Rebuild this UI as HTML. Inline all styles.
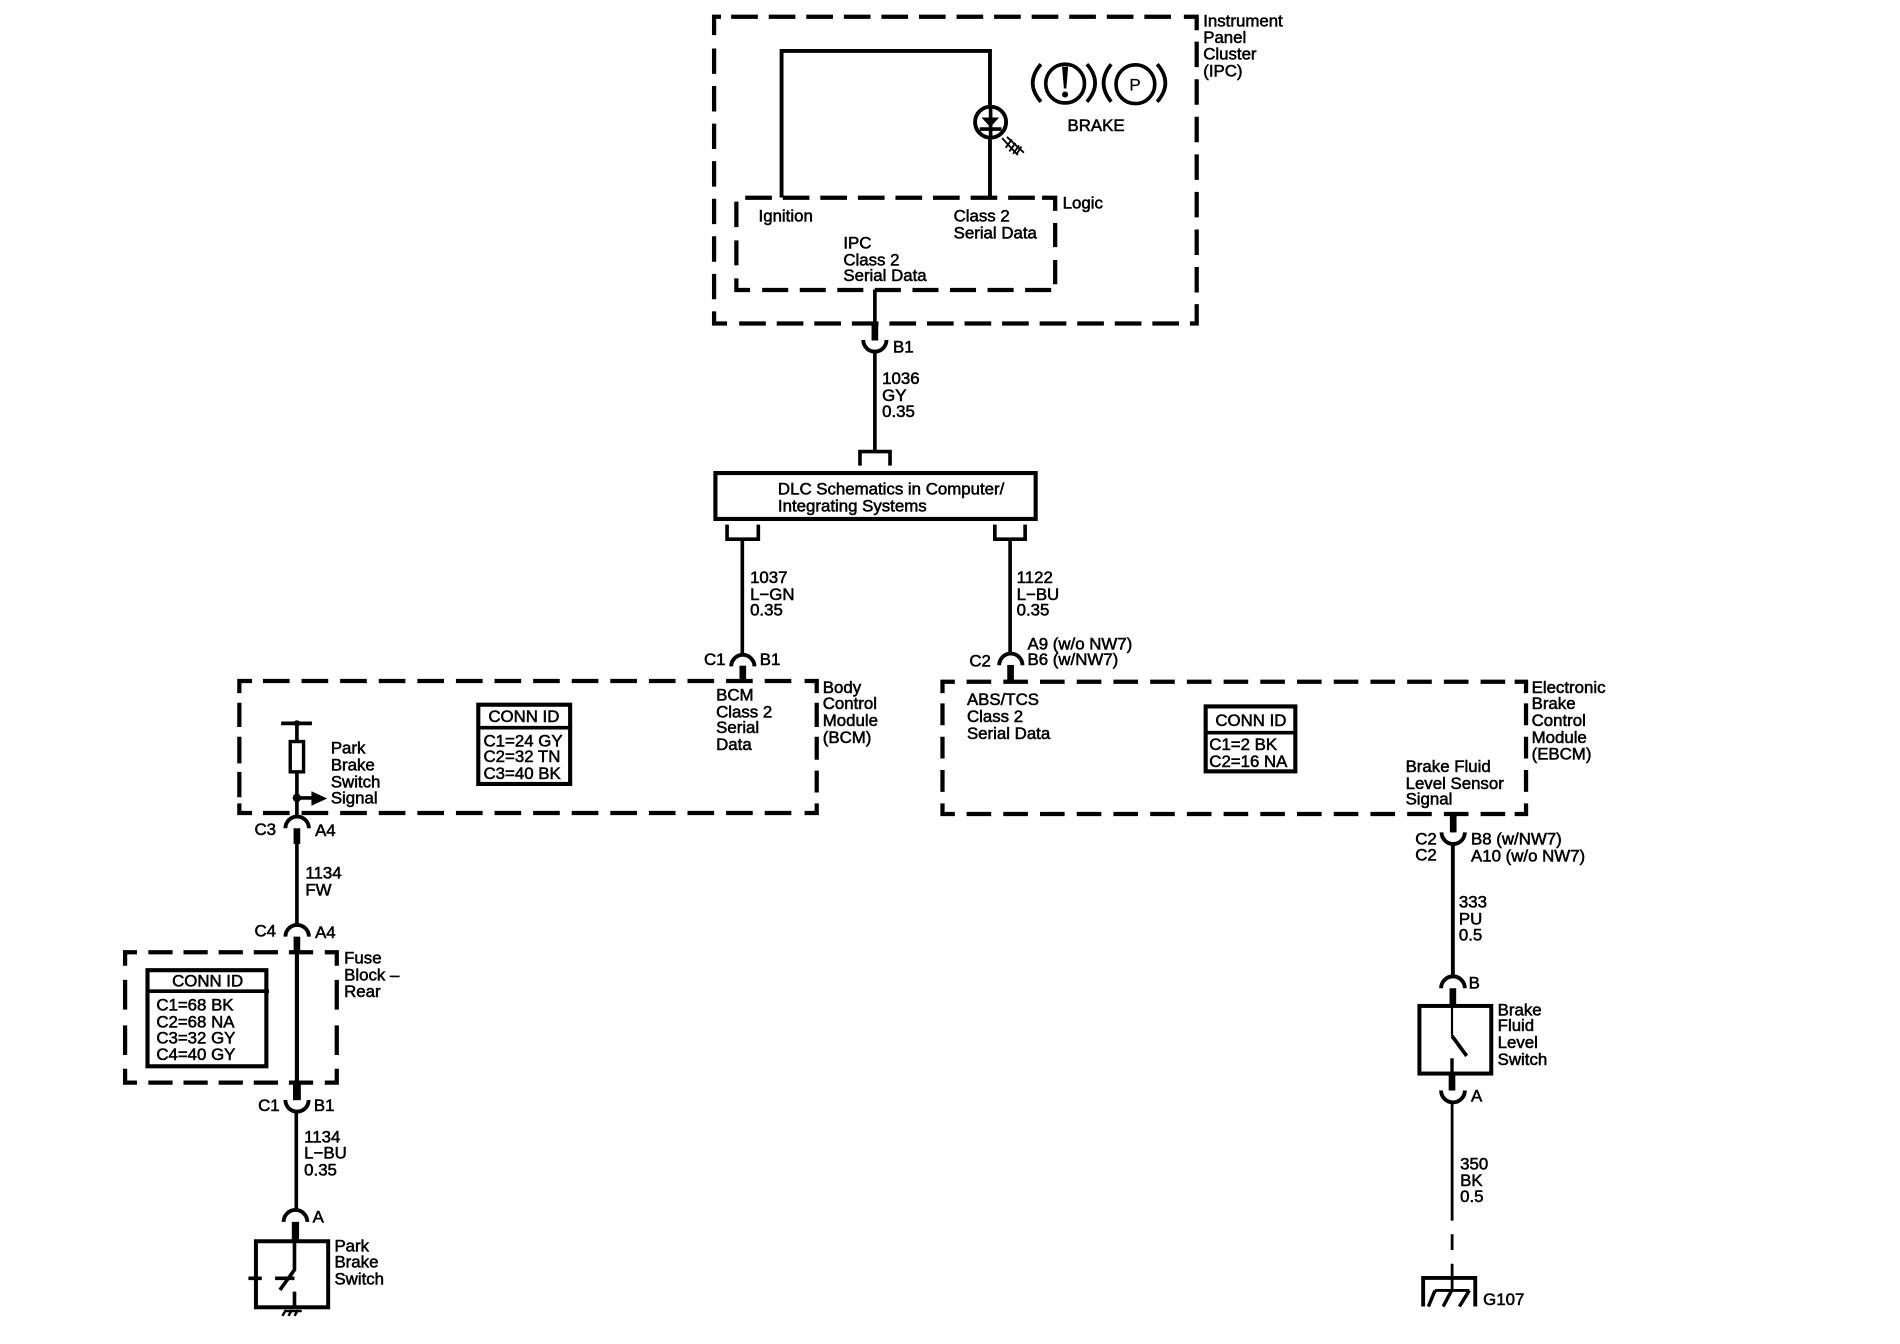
<!DOCTYPE html>
<html><head><meta charset="utf-8"><style>
html,body{margin:0;padding:0;background:#fff;width:1900px;height:1344px;overflow:hidden}
svg{display:block}
text{font-family:"Liberation Sans",sans-serif;font-size:13.9px;fill:#000;stroke:#000;stroke-width:.45}
.w{fill:none;stroke:#000;stroke-width:3}
.n{fill:none;stroke:#000;stroke-width:2.3}
.t{fill:none;stroke:#000;stroke-width:5.5}
.d{fill:none;stroke:#000;stroke-width:3.5}
.a{fill:none;stroke:#000;stroke-width:3.2}
</style></head><body>
<svg width="1900" height="1344" viewBox="0 0 1568 1109.2" xmlns="http://www.w3.org/2000/svg">
<rect width="1568" height="1110" fill="#fff"/>
<!-- IPC dashed -->
<path class="d" d="M589.300 29V13.800H595M977 13.800H987.600V25M589.300 257V267H600M982 267H987.600V251"/>
<path class="d" style="stroke-dasharray:22 9" d="M603.400 13.800H968M610 267H973"/>
<path class="d" style="stroke-dasharray:21 10" d="M589.300 40V247M987.600 34.400V242"/>
<!-- Logic dashed -->
<path class="d" d="M860 163.200H870.800V174M607.700 229.700V239.300H619"/>
<path class="d" style="stroke-dasharray:22 9" d="M615 163.200H856"/>
<path class="d" style="stroke-dasharray:21 11" d="M607.700 166.400V219"/>
<path class="d" style="stroke-dasharray:21.500 9.500" d="M629 239.300H868"/>
<path class="d" style="stroke-dasharray:20 10.600" d="M870.800 184V235"/>
<!-- BCM dashed -->
<path class="d" d="M197.500 572V562H208M664 562H674V572M197.500 663V671H208M664 671H674V663"/>
<path class="d" style="stroke-dasharray:22 9.850" d="M217 562H654M217 671H654"/>
<path class="d" d="M197.500 580V600M197.500 608V630M197.500 637V658M674 580V600M674 608V627M674 636V654"/>
<!-- EBCM dashed -->
<path class="d" d="M777.800 572V562.600H788M1250 562.600H1259.400V572M777.800 663V671.800H788M1250 671.800H1259.400V663"/>
<path class="d" style="stroke-dasharray:20.300 10" d="M797.700 562.600H1243M797.700 671.800H1243"/>
<path class="d" style="stroke-dasharray:18 9.500" d="M777.800 580.500V654M1259.400 580.500V654"/>
<!-- Fuse dashed -->
<path class="d" d="M103.200 797V785.900H113M268 785.900H277.900V797M103.200 882V893.500H113M268 893.500H277.900V882"/>
<path class="d" style="stroke-dasharray:20 9" d="M122.400 785.900H259M122.400 893.500H259"/>
<path class="d" style="stroke-dasharray:24.500 13" d="M103.200 808.700V871M277.900 808.700V871"/>
<!-- IPC wiring -->
<path class="w" style="stroke-width:3.200" d="M645 163V42H817V163"/>
<circle cx="817.500" cy="100.800" r="12.800" fill="#fff" stroke="#000" stroke-width="3.200"/>
<path d="M817.500 88V114" class="w"/>
<path d="M810 97H824.500L817.300 105Z" fill="#000"/>
<path d="M808.500 106.500H826.500" class="w"/>
<path d="M827 114L840 128M831 113L845 126" class="n" style="stroke-width:1.500"/>
<path d="M830 122L835 115M833 125L838 118M836 127L841 120M839 127L843 121" class="n" style="stroke-width:1.500"/>
<!-- brake icon -->
<circle cx="879" cy="69" r="16" fill="none" stroke="#000" stroke-width="3"/>
<circle cx="937" cy="69.500" r="16" fill="none" stroke="#000" stroke-width="3"/>
<path d="M859 53Q845.500 68.500 859 84M897 53Q910.500 68.500 897 84M917 53Q904.500 68.500 917 84M955 53Q968.500 68.500 955 84" class="w"/>
<path d="M876.500 55H881.500L880 73H878Z" fill="#000"/>
<circle cx="879" cy="78" r="2.500" fill="#000"/>
<text x="932" y="74.500" style="font-size:14px;stroke-width:.2">P</text>
<!-- main wire top -->
<path class="w" d="M722 239V280"/>
<path class="t" d="M722 266V281"/>
<path class="a" d="M712.400 280.600A9.600 9.600 0 0 0 731.600 280.600"/>
<path class="w" d="M722 290V372"/>
<path class="w" d="M709.700 384.300V372.700H734.500V384.300"/>
<rect x="590.400" y="390.400" width="264.300" height="37.900" fill="none" stroke="#000" stroke-width="3.400"/>
<path class="w" d="M600 433V445H625.800V433M612.600 445V541"/>
<path class="w" d="M821 433V445H846V433M833.600 445V540"/>
<!-- C1 / C2 top connectors -->
<path class="a" d="M603.400 550A9.600 9.600 0 0 1 622.600 550"/>
<path class="t" d="M613 549.400V562.600"/>
<path class="a" d="M824.600 549A9.600 9.600 0 0 1 843.800 549"/>
<path class="t" d="M834 548.800V562"/>
<!-- park brake inner -->
<path class="w" d="M232 597H257.400M245 597V612"/>
<circle cx="245" cy="597" r="2.600" fill="#000"/>
<rect x="239.500" y="612" width="11" height="25" fill="none" stroke="#000" stroke-width="2.800"/>
<path class="w" d="M245 637V675"/>
<circle cx="245" cy="658.500" r="3.500" fill="#000"/>
<path class="w" d="M245 658.500H258"/>
<path d="M257 653V665L270 659Z" fill="#000"/>
<path class="a" d="M235.500 683.600A9.700 9.700 0 0 1 254.900 683.600"/>
<path class="t" d="M245 683.600V696.600"/>
<path class="w" d="M245 696.600V765"/>
<path class="a" d="M235.500 773A9.700 9.700 0 0 1 254.900 773"/>
<path class="t" d="M245 773V786.800"/>
<path class="w" style="stroke-width:3.400" d="M245 786V894"/>
<path class="t" style="stroke-width:6.500" d="M245 894V908"/>
<path class="a" d="M235.500 907.800A9.600 9.600 0 0 0 254.700 907.800"/>
<path class="w" d="M244.500 917V1000"/>
<path class="a" d="M234 1008.400A9.800 9.800 0 0 1 253.600 1008.400"/>
<path class="t" style="stroke-width:6" d="M243.800 1008.400V1024"/>
<rect x="211.200" y="1024.400" width="59.600" height="54.500" fill="none" stroke="#000" stroke-width="3.300"/>
<path class="w" d="M243 1024V1048L231 1064.600M227 1055H243M205 1055H216M243 1066V1079"/>
<path class="n" d="M233 1086L236 1081M238 1086L241 1081M243 1086L246 1081M235 1082H249" style="stroke-width:2"/>
<!-- right branch -->
<path class="t" d="M1199.300 672V687"/>
<path class="a" d="M1189.700 687A9.600 9.600 0 0 0 1208.900 687"/>
<path class="w" style="stroke-width:3.200" d="M1199 696V806"/>
<path class="a" d="M1189.300 815.600A9.800 9.800 0 0 1 1208.900 815.600"/>
<path class="t" d="M1199 815.600V830"/>
<rect x="1171.400" y="830.200" width="59.300" height="55.800" fill="none" stroke="#000" stroke-width="3.300"/>
<path class="n" style="stroke-width:1.800" d="M1198.300 830V855"/>
<path class="w" d="M1198.300 855L1210.400 871.400"/>
<path class="w" style="stroke-width:2.800" d="M1198.300 873.400V887"/>
<path class="t" d="M1198.300 887V900"/>
<path class="a" d="M1189.300 900A9.800 9.800 0 0 0 1208.900 900"/>
<path class="n" d="M1198.400 909.700V1007.400M1198.400 1018.600V1031.600M1198.400 1043V1065"/>
<path d="M1174.500 1078.300V1054.700H1217.500V1078.300" fill="none" stroke="#000" stroke-width="3.200"/>
<path class="n" d="M1184.300 1065H1212.600"/>
<path class="w" style="stroke-width:2.800" d="M1184.300 1065L1178.800 1078.300M1198 1065L1191 1078.300M1212.600 1065L1204.400 1078.300"/>
<!-- conn id boxes -->
<rect x="394.700" y="581.600" width="75.800" height="65.400" fill="#fff" stroke="#000" stroke-width="3.400"/>
<path class="w" d="M394 600.600H471"/>
<rect x="995" y="583" width="74" height="53.600" fill="#fff" stroke="#000" stroke-width="3.400"/>
<path class="w" d="M994 604.700H1070"/>
<rect x="121.700" y="800.700" width="98.100" height="79.300" fill="#fff" stroke="#000" stroke-width="3.400"/>
<path class="w" d="M121 818H222"/>
<!-- labels -->
<text x="993" y="22">Instrument</text><text x="993" y="35.500">Panel</text><text x="993" y="49">Cluster</text><text x="993" y="63">(IPC)</text>
<text x="881" y="108">BRAKE</text>
<text x="877" y="172">Logic</text>
<text x="626" y="183">Ignition</text>
<text x="787" y="183">Class 2</text><text x="787" y="197">Serial Data</text>
<text x="696" y="205">IPC</text><text x="696" y="219">Class 2</text><text x="696" y="232">Serial Data</text>
<text x="737" y="291">B1</text>
<text x="728" y="317">1036</text><text x="728" y="331">GY</text><text x="728" y="344">0.35</text>
<text x="642" y="408">DLC Schematics in Computer/</text><text x="642" y="422">Integrating Systems</text>
<text x="619" y="481">1037</text><text x="619" y="495">L−GN</text><text x="619" y="508">0.35</text>
<text x="839" y="481">1122</text><text x="839" y="495">L−BU</text><text x="839" y="508">0.35</text>
<text x="581" y="549">C1</text><text x="627" y="549">B1</text>
<text x="800" y="550">C2</text><text x="848" y="536">A9 (w/o NW7)</text><text x="848" y="549">B6 (w/NW7)</text>
<text x="679" y="572">Body</text><text x="679" y="585">Control</text><text x="679" y="599">Module</text><text x="679" y="613">(BCM)</text>
<text x="1264" y="572">Electronic</text><text x="1264" y="585">Brake</text><text x="1264" y="599">Control</text><text x="1264" y="613">Module</text><text x="1264" y="627">(EBCM)</text>
<text x="591" y="578">BCM</text><text x="591" y="592">Class 2</text><text x="591" y="605">Serial</text><text x="591" y="619">Data</text>
<text x="798" y="582">ABS/TCS</text><text x="798" y="596">Class 2</text><text x="798" y="610">Serial Data</text>
<text x="403" y="596">CONN ID</text><text x="399" y="616">C1=24 GY</text><text x="399" y="629">C2=32 TN</text><text x="399" y="643">C3=40 BK</text>
<text x="1003" y="599">CONN ID</text><text x="998" y="619">C1=2 BK</text><text x="998" y="633">C2=16 NA</text>
<text x="1160" y="637">Brake Fluid</text><text x="1160" y="651">Level Sensor</text><text x="1160" y="664">Signal</text>
<text x="273" y="622">Park</text><text x="273" y="636">Brake</text><text x="273" y="650">Switch</text><text x="273" y="663">Signal</text>
<text x="210" y="689">C3</text><text x="260" y="690">A4</text>
<text x="252" y="725">1134</text><text x="252" y="739">FW</text>
<text x="210" y="773">C4</text><text x="260" y="774">A4</text>
<text x="284" y="795">Fuse</text><text x="284" y="809">Block –</text><text x="284" y="823">Rear</text>
<text x="142" y="814">CONN ID</text><text x="129" y="834">C1=68 BK</text><text x="129" y="848">C2=68 NA</text><text x="129" y="861">C3=32 GY</text><text x="129" y="875">C4=40 GY</text>
<text x="213" y="917">C1</text><text x="259" y="917">B1</text>
<text x="251" y="943">1134</text><text x="251" y="956">L−BU</text><text x="251" y="970">0.35</text>
<text x="258" y="1009">A</text>
<text x="276" y="1033">Park</text><text x="276" y="1046">Brake</text><text x="276" y="1060">Switch</text>
<text x="1168" y="697">C2</text><text x="1168" y="710">C2</text><text x="1214" y="697">B8 (w/NW7)</text><text x="1214" y="711">A10 (w/o NW7)</text>
<text x="1204" y="749">333</text><text x="1204" y="763">PU</text><text x="1204" y="776">0.5</text>
<text x="1212" y="816">B</text>
<text x="1236" y="838">Brake</text><text x="1236" y="851">Fluid</text><text x="1236" y="865">Level</text><text x="1236" y="879">Switch</text>
<text x="1214" y="909">A</text>
<text x="1205" y="965">350</text><text x="1205" y="979">BK</text><text x="1205" y="992">0.5</text>
<text x="1224" y="1077">G107</text>
</svg>
</body></html>
